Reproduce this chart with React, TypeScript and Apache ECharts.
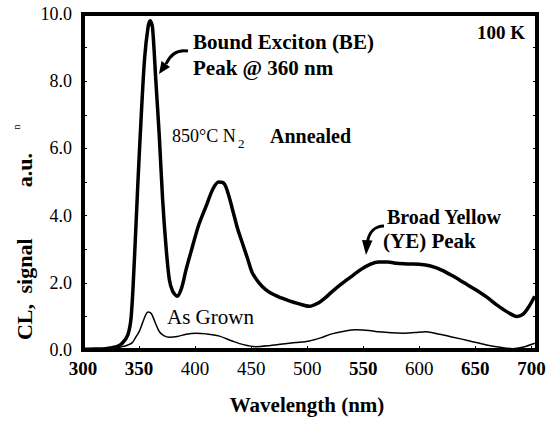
import React, { useEffect, useRef } from "react";
import * as echarts from "echarts";

const annealedWl = [300, 310, 320, 330, 335, 340, 343, 346, 349, 352, 355, 358, 360, 362, 365, 368, 371, 374, 377, 380, 384, 388, 392, 397, 403, 410, 416, 421, 426, 430, 434, 438, 442, 447, 451, 457, 463, 470, 477, 484, 492, 502, 510, 516, 522, 530, 540, 548, 556, 564, 572, 580, 590, 600, 610, 620, 630, 640, 650, 660, 670, 680, 687, 692, 697, 703];
const annealedCL = [0.02, 0.03, 0.04, 0.1, 0.2, 0.45, 1.0, 2.8, 5.0, 7.0, 8.7, 9.6, 9.8, 9.6, 8.0, 6.4, 4.5, 3.1, 2.1, 1.75, 1.6, 1.85, 2.4, 3.0, 3.7, 4.3, 4.8, 5.0, 4.95, 4.6, 4.1, 3.6, 3.2, 2.7, 2.3, 2.0, 1.8, 1.65, 1.55, 1.46, 1.38, 1.3, 1.4, 1.55, 1.73, 1.95, 2.2, 2.4, 2.55, 2.62, 2.62, 2.58, 2.56, 2.55, 2.5, 2.38, 2.2, 2.0, 1.8, 1.58, 1.32, 1.1, 1.0, 1.05, 1.25, 1.6];

const grownWl = [300, 310, 320, 330, 335, 340, 344, 347, 350, 353, 356, 358, 361, 364, 368, 372, 377, 384, 392, 401, 410, 421, 433, 443, 454, 466, 478, 490, 502, 512, 522, 533, 544, 555, 564, 575, 585, 596, 606, 618, 629, 645, 660, 672, 683, 693, 703];
const grownCL = [0.02, 0.02, 0.03, 0.06, 0.1, 0.15, 0.22, 0.38, 0.54, 0.8, 1.05, 1.13, 1.08, 0.85, 0.55, 0.43, 0.38, 0.4, 0.47, 0.5, 0.48, 0.42, 0.27, 0.16, 0.1, 0.13, 0.18, 0.22, 0.27, 0.36, 0.48, 0.56, 0.6, 0.58, 0.54, 0.51, 0.5, 0.52, 0.54, 0.47, 0.39, 0.27, 0.15, 0.08, 0.04, 0.09, 0.2];

const xTicks = [300, 350, 400, 450, 500, 550, 600, 650, 700];
const boldXTicks = [300, 350, 550, 650, 700];
const yTicks = [0, 2, 4, 6, 8, 10];

const SERIF = "Liberation Serif";

export default function App() {
  const ref = useRef<HTMLDivElement>(null);
  useEffect(() => {
    if (!ref.current) return;
    document.body.style.margin = "0";
    const chart = echarts.init(ref.current, null, { renderer: "svg" });
    const zip = (xs: number[], ys: number[]) => xs.map((x, i) => [x, ys[i]]);
    const txt = (x: number, y: number, text: string, size: number, bold: boolean, align = "left", rotation = 0) => ({
      type: "text",
      x,
      y,
      rotation,
      style: {
        text,
        fontFamily: SERIF,
        fontSize: size,
        fontWeight: bold ? "bold" : "normal",
        fill: "#000",
        align,
        verticalAlign: "middle",
      },
    });
    const R = Math.PI / 2;
    chart.setOption({
      animation: false,
      backgroundColor: "#fff",
      textStyle: { fontFamily: SERIF },
      grid: {
        left: 83,
        right: 13,
        top: 14,
        bottom: 72,
        show: true,
        borderColor: "#000",
        borderWidth: 4,
        backgroundColor: "transparent",
      },
      xAxis: {
        type: "value",
        min: 300,
        max: 705,
        interval: 50,
        axisLine: { show: false },
        splitLine: { show: false },
        axisTick: { show: true, inside: true, length: 4, lineStyle: { color: "#000", width: 1 } },
        axisLabel: {
          margin: 9,
          formatter: (v: number) => {
            if (!xTicks.includes(v)) return "";
            return boldXTicks.includes(v) ? `{b|${v}}` : `{r|${v}}`;
          },
          rich: {
            b: { fontFamily: SERIF, fontSize: 19, fontWeight: "bold", color: "#000" },
            r: { fontFamily: SERIF, fontSize: 19, fontWeight: "normal", color: "#000" },
          },
        },
      },
      yAxis: [
        {
          type: "value",
          min: 0,
          max: 10,
          interval: 2,
          axisLine: { show: false },
          splitLine: { show: false },
          axisTick: { show: true, inside: true, length: 4, lineStyle: { color: "#000" } },
          minorTick: { show: true, splitNumber: 2, length: 4, lineStyle: { color: "#000" } },
          axisLabel: {
            margin: 11,
            formatter: (v: number) => (yTicks.includes(v) ? v.toFixed(1) : ""),
            fontFamily: SERIF,
            fontSize: 18,
            color: "#000",
          },
        },
        {
          type: "value",
          position: "right",
          min: 0,
          max: 10,
          interval: 2,
          axisLine: { show: false },
          splitLine: { show: false },
          axisTick: { show: true, inside: true, length: 4, lineStyle: { color: "#000" } },
          minorTick: { show: true, splitNumber: 2, length: 4, lineStyle: { color: "#000" } },
          axisLabel: { show: false },
        },
      ],
      series: [
        {
          name: "850°C N2 Annealed",
          type: "line",
          data: zip(annealedWl, annealedCL),
          showSymbol: false,
          smooth: 0.3,
          lineStyle: { color: "#000", width: 3.5 },
        },
        {
          name: "As Grown",
          type: "line",
          data: zip(grownWl, grownCL),
          showSymbol: false,
          smooth: 0.3,
          lineStyle: { color: "#000", width: 1.5 },
        },
      ],
      graphic: [
        txt(24, 322, "CL,", 22, true, "center", R),
        txt(24, 266, "signal", 22, true, "center", R),
        txt(24, 170, "a.u.", 22, true, "center", R),
        txt(16, 127, "n", 10, false, "center", R),
        txt(307, 405, "Wavelength (nm)", 21, true, "center"),
        txt(525, 32, "100 K", 19, true, "right"),
        txt(193, 42, "Bound Exciton (BE)", 21, true),
        txt(193, 68, "Peak @ 360 nm", 21, true),
        txt(172, 136, "850°C N", 18, false),
        txt(238, 143, "2", 13, false),
        txt(270, 136, "Annealed", 20, true),
        txt(387, 217, "Broad Yellow", 20, true),
        txt(383, 241, "(YE) Peak", 21, true),
        txt(167, 317, "As Grown", 21, false),
        {
          type: "bezierCurve",
          shape: { x1: 188, y1: 51, cpx1: 176, cpy1: 49, cpx2: 170, cpy2: 55, x2: 166, y2: 64 },
          style: { stroke: "#000", lineWidth: 3, fill: null },
        },
        {
          type: "polygon",
          shape: { points: [[159, 74], [170, 67], [161.5, 61]] },
          style: { fill: "#000" },
        },
        {
          type: "bezierCurve",
          shape: { x1: 384, y1: 226, cpx1: 375, cpy1: 226, cpx2: 369, cpy2: 232, x2: 367.5, y2: 242 },
          style: { stroke: "#000", lineWidth: 3, fill: null },
        },
        {
          type: "polygon",
          shape: { points: [[366, 255], [372.5, 240.5], [362, 240]] },
          style: { fill: "#000" },
        },
      ],
    });
    return () => chart.dispose();
  }, []);
  return <div ref={ref} style={{ width: 550, height: 422 }} />;
}
